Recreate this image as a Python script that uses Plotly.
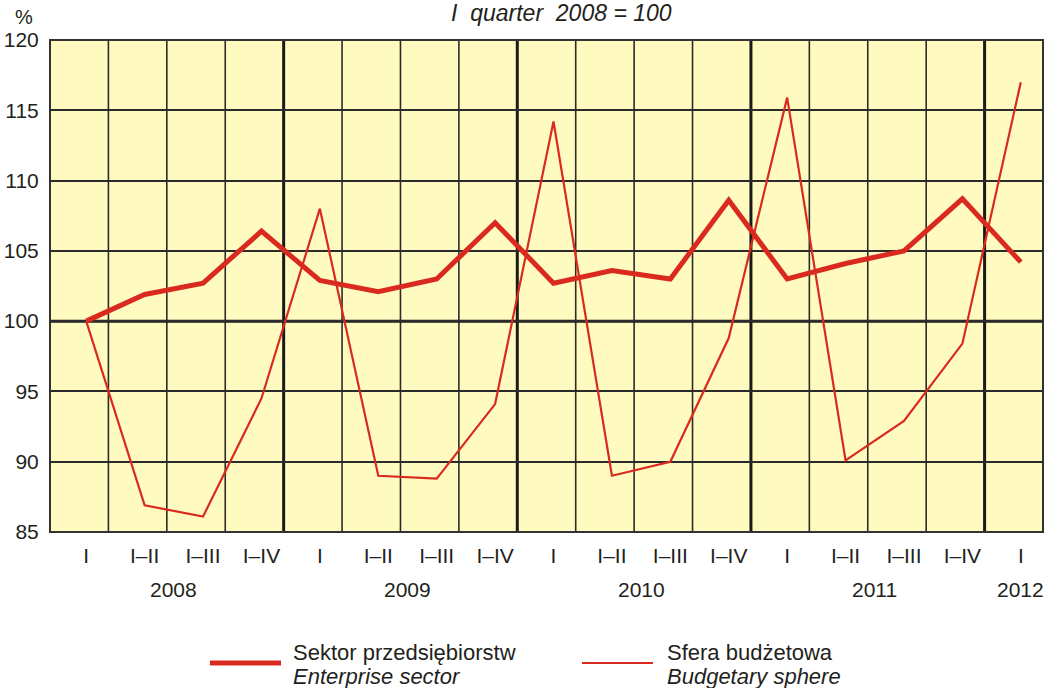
import plotly.graph_objects as go

# ---- data ----
quarters = ["I", "I–II", "I–III", "I–IV"] * 4 + ["I"]
years = ["2008", "2009", "2010", "2011", "2012"]
year_of_point = [y for y in years[:4] for _ in range(4)] + ["2012"]
enterprise = [100, 101.9, 102.7, 106.4, 102.9, 102.1, 103.0, 107.0, 102.7,
              103.6, 103.0, 108.6, 103.0, 104.1, 105.0, 108.7, 104.2]
budget = [100, 86.9, 86.1, 94.5, 108.0, 89.0, 88.8, 94.1, 114.2,
          89.0, 90.0, 98.8, 115.9, 90.1, 92.9, 98.4, 117.0]
y_ticks = [85, 90, 95, 100, 105, 110, 115, 120]
series_names = [("Sektor przedsiębiorstw", "Enterprise sector"),
                ("Sfera budżetowa", "Budgetary sphere")]
title_text = "I  quarter  2008 = 100"

RED = "#da2a1f"
GRID = "#2b2b2b"
FONT = "Liberation Sans, Arial, sans-serif"
TXT = "#231f20"

x = list(range(len(quarters)))
OFF = 0.62  # boundary offset relative to point index
n = len(quarters)

fig = go.Figure()
fig.add_trace(go.Scatter(x=x, y=budget, mode="lines",
                         line=dict(color=RED, width=2.2), showlegend=False))
fig.add_trace(go.Scatter(x=x, y=enterprise, mode="lines",
                         line=dict(color=RED, width=5), showlegend=False))

shapes = []
# vertical grid lines (category boundaries), thick at year starts
for k in range(1, n):
    thick = (k % 4 == 0)
    shapes.append(dict(type="line", xref="x", yref="paper",
                       x0=k - OFF, x1=k - OFF, y0=0, y1=1, layer="below",
                       line=dict(color="#1a1a1a" if thick else GRID,
                                 width=3 if thick else 1.6)))
# thick 100 line
shapes.append(dict(type="line", xref="paper", yref="y", x0=0, x1=1,
                   y0=100, y1=100, layer="below",
                   line=dict(color="#1a1a1a", width=3)))
# plot border
shapes.append(dict(type="rect", xref="paper", yref="paper", x0=0, x1=1,
                   y0=0, y1=1, layer="below",
                   line=dict(color="#333333", width=2)))

PH = 492.0
def py(p):
    return (532 - p) / PH
def px(p):
    return (p - 50) / 993.0

annotations = []
# year labels centred under their quarters
for yr in years:
    idx = [i for i, v in enumerate(year_of_point) if v == yr]
    annotations.append(dict(x=sum(idx) / len(idx), y=py(589), xref="x",
                            yref="paper", text=yr, showarrow=False,
                            font=dict(family=FONT, size=21, color=TXT),
                            xanchor="center", yanchor="middle"))
# % label and title
annotations.append(dict(x=px(24), y=py(17), xref="paper", yref="paper",
                        text="%", showarrow=False, xanchor="center",
                        yanchor="middle",
                        font=dict(family=FONT, size=20, color=TXT)))
annotations.append(dict(x=px(561), y=py(13), xref="paper", yref="paper",
                        text="<i>" + title_text + "</i>", showarrow=False,
                        xanchor="center", yanchor="middle",
                        font=dict(family=FONT, size=23, color=TXT)))

# manual legend
legend_items = [(210, 281, 5, 291), (582, 653, 2.2, 665)]
for (x0, x1, w, tx), (pl, en) in zip(legend_items, series_names):
    shapes.append(dict(type="line", xref="paper", yref="paper",
                       x0=px(x0), x1=px(x1), y0=py(663), y1=py(663),
                       line=dict(color=RED, width=w)))
    annotations.append(dict(x=px(tx), y=py(652), xref="paper", yref="paper",
                            text=pl, showarrow=False, xanchor="left",
                            yanchor="middle",
                            font=dict(family=FONT, size=22, color=TXT)))
    annotations.append(dict(x=px(tx), y=py(676), xref="paper", yref="paper",
                            text="<i>" + en + "</i>", showarrow=False,
                            xanchor="left", yanchor="middle",
                            font=dict(family=FONT, size=22, color=TXT)))

fig.update_layout(
    width=1061, height=688,
    margin=dict(l=50, r=18, t=40, b=156, autoexpand=False),
    paper_bgcolor="white", plot_bgcolor="#fffbc0",
    shapes=shapes, annotations=annotations,
    xaxis=dict(range=[-OFF, n - OFF], tickmode="array", tickvals=x,
               ticktext=quarters, showgrid=False, zeroline=False,
               automargin=False,
               ticks="outside", ticklen=5, tickcolor="rgba(0,0,0,0)",
               tickfont=dict(family=FONT, size=21, color=TXT),
               fixedrange=True),
    yaxis=dict(range=[85, 120], tickmode="array", tickvals=y_ticks,
               showgrid=True, gridcolor=GRID, gridwidth=1.6, zeroline=False,
               automargin=False,
               ticks="outside", ticklen=6, tickcolor="rgba(0,0,0,0)",
               tickfont=dict(family=FONT, size=21, color=TXT),
               fixedrange=True),
)

fig.write_html("out.html", config={"displayModeBar": False},
               post_script="document.body.style.margin='0';")
